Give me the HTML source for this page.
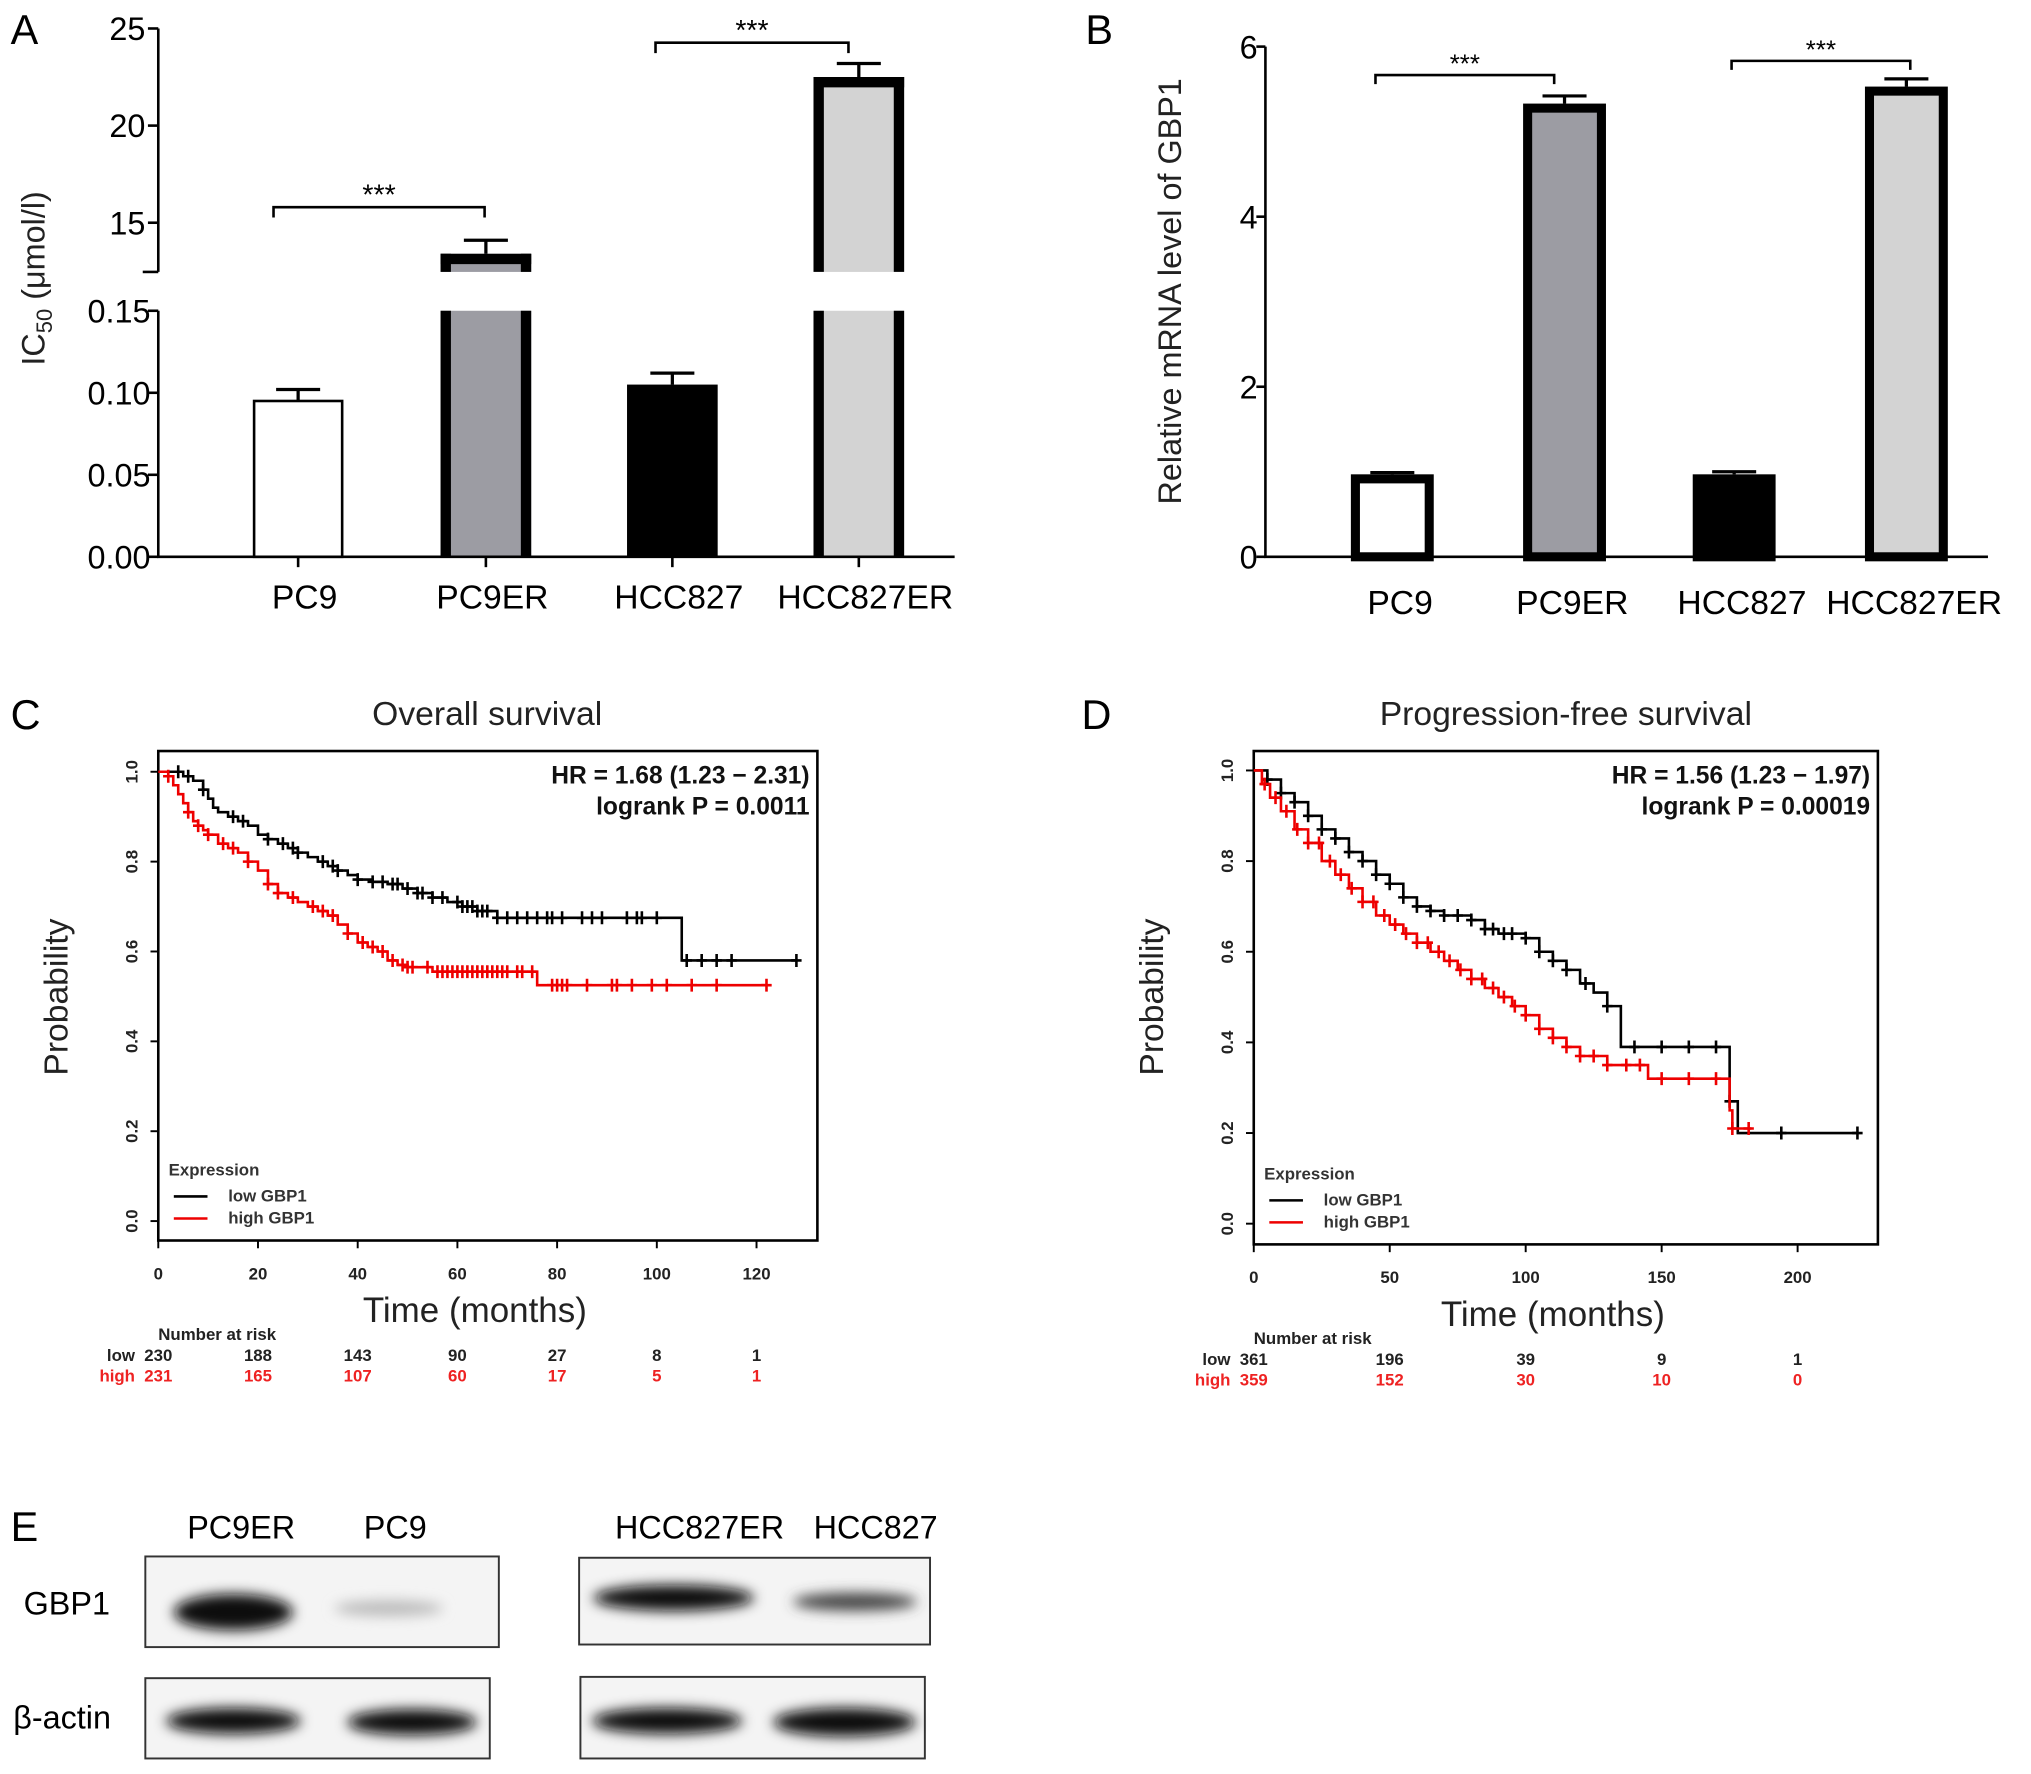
<!DOCTYPE html>
<html><head><meta charset="utf-8"><style>
html,body{margin:0;padding:0;background:#fff;}
svg{display:block;font-family:"Liberation Sans",sans-serif;}
</style></head><body>
<svg id="fig" width="2031" height="1774" viewBox="0 0 1568 1370" xmlns="http://www.w3.org/2000/svg">
<defs>
<filter id="blur" x="-30%" y="-80%" width="160%" height="260%"><feGaussianBlur stdDeviation="5"/></filter>
</defs>
<g id="A"></g>
<g id="B"></g>
<g id="C"></g>
<g id="D"></g>
<g id="E">
<text x="8" y="1190" font-size="32">E</text>
<text x="186" y="1188" font-size="25" text-anchor="middle">PC9ER</text>
<text x="305" y="1188" font-size="25" text-anchor="middle">PC9</text>
<text x="540" y="1188" font-size="25" text-anchor="middle">HCC827ER</text>
<text x="676" y="1188" font-size="25" text-anchor="middle">HCC827</text>
<text x="18" y="1247" font-size="25">GBP1</text>
<text x="10" y="1335" font-size="25">β-actin</text>
<rect x="112" y="1202" width="273" height="70" fill="#f4f4f4" stroke="#333" stroke-width="1.5"/>
<rect x="112" y="1296" width="266" height="62" fill="#f4f4f4" stroke="#333" stroke-width="1.5"/>
<rect x="447" y="1203" width="271" height="67" fill="#f4f4f4" stroke="#333" stroke-width="1.5"/>
<rect x="448" y="1295" width="266" height="63" fill="#f4f4f4" stroke="#333" stroke-width="1.5"/>
<g filter="url(#blur)">
<ellipse cx="180" cy="1245" rx="46" ry="14" fill="#111"/>
<ellipse cx="300" cy="1242" rx="42" ry="6" fill="#bbb"/>
<ellipse cx="180" cy="1329" rx="52" ry="10" fill="#111"/>
<ellipse cx="318" cy="1330" rx="50" ry="10" fill="#111"/>
<ellipse cx="520" cy="1234" rx="62" ry="10" fill="#111"/>
<ellipse cx="660" cy="1237" rx="48" ry="7" fill="#444"/>
<ellipse cx="515" cy="1329" rx="58" ry="10" fill="#111"/>
<ellipse cx="652" cy="1330" rx="55" ry="11" fill="#111"/>
</g>
</g>
</svg>
<script>
const NS="http://www.w3.org/2000/svg";
function mk(p,tag,at,txt){const e=document.createElementNS(NS,tag);for(const k in at)e.setAttribute(k,at[k]);if(txt!==undefined)e.textContent=txt;p.appendChild(e);return e;}

// ---- Panel A data ----
const aCats=["PC9","PC9ER","HCC827","HCC827ER"];
const aVals=[0.095,13.4,0.105,22.5];
const aErr=[0.007,0.7,0.007,0.7];
const aFills=["#ffffff","#9c9ca3","#000000","#d3d3d3"];
const aUpperTicks=[15,20,25];
const aLowerTicks=["0.00","0.05","0.10","0.15"];
// ---- Panel B data ----
const bCats=["PC9","PC9ER","HCC827","HCC827ER"];
const bVals=[0.97,5.33,0.97,5.53];
const bErr=[0.02,0.09,0.03,0.09];
const bTicks=[0,2,4,6];
// ---- Panel C data ----
const cLowT=[0,5,7,9,10,11,12,14,16,18,20,22,24,26,28,30,32,34,36,38,40,43,46,49,52,55,58,61,64,68,105,128];
const cLowS=[1,0.99,0.98,0.96,0.94,0.92,0.91,0.90,0.89,0.88,0.86,0.85,0.84,0.83,0.82,0.81,0.80,0.79,0.78,0.77,0.76,0.755,0.75,0.74,0.73,0.72,0.71,0.70,0.69,0.675,0.58,0.58];
const cHighT=[0,2,3,4,5,6,7,8,9,10,12,14,16,18,20,22,24,26,28,30,32,34,36,38,40,42,44,46,48,50,55,76,122];
const cHighS=[1,0.99,0.97,0.95,0.93,0.91,0.89,0.88,0.87,0.86,0.84,0.83,0.82,0.80,0.78,0.75,0.73,0.72,0.71,0.70,0.69,0.68,0.66,0.64,0.62,0.61,0.60,0.58,0.57,0.565,0.555,0.525,0.525];
const cLowCens=[4,6,9,15,17,22,25,27,28,33,35,36,40,43,45,47,48,50,52,53,55,57,60,61,62,63,64,65,66,68,70,72,74,76,78,79,81,85,87,89,94,96,97,100,106,109,112,115,128];
const cHighCens=[2,6,8,10,13,15,18,22,24,27,31,33,35,38,41,43,45,47,49,50,51,54,56,57,58,59,60,61,62,63,64,65,66,67,68,69,70,72,73,75,79,80,81,82,86,91,92,95,99,102,107,112,122];
const cRiskLow=[230,188,143,90,27,8,1];
const cRiskHigh=[231,165,107,60,17,5,1];
const cXTicks=[0,20,40,60,80,100,120];
// ---- Panel D data ----
const dLowT=[0,5,10,15,20,25,30,35,40,45,50,55,60,65,70,80,85,90,100,105,110,115,120,125,130,135,175,178,222];
const dLowS=[1,0.98,0.95,0.93,0.90,0.87,0.85,0.82,0.80,0.77,0.75,0.72,0.70,0.69,0.68,0.67,0.65,0.64,0.63,0.60,0.58,0.56,0.53,0.51,0.48,0.39,0.27,0.20,0.20];
const dHighT=[0,3,6,10,15,20,25,30,35,40,45,50,55,60,65,70,75,80,85,90,95,100,105,110,115,120,130,145,175,176,183];
const dHighS=[1,0.97,0.94,0.91,0.87,0.84,0.80,0.77,0.74,0.71,0.68,0.66,0.64,0.62,0.60,0.58,0.56,0.54,0.52,0.50,0.48,0.46,0.43,0.41,0.39,0.37,0.35,0.32,0.25,0.21,0.21];
const dLowCens=[5,10,15,20,25,30,35,40,45,50,55,60,65,70,75,80,85,88,92,95,100,105,110,115,122,130,140,150,160,170,175,194,222];
const dHighCens=[4,8,12,16,20,24,28,32,36,40,44,48,52,56,60,64,68,72,76,80,84,88,92,96,100,105,110,115,120,125,130,137,142,150,160,170,176,182];
const dRiskLow=[361,196,39,9,1];
const dRiskHigh=[359,152,30,10,0];
const dXTicks=[0,50,100,150,200];
const yTicksKM=["0.0","0.2","0.4","0.6","0.8","1.0"];

// ================= Panel A =================
(function(){
 const g=document.getElementById('A');
 const ax=122, yTop=22, yBreakU=210, yBreakL=240, y0=430;
 const yU=v=>97-(v-20)*15;
 const yL=v=>y0-(v/0.15)*(y0-yBreakL);
 const xs=[230,375,519,663], bw=70;
 let t=mk(g,'text',{x:8,y:34,'font-size':32},'A');
 
 aCats.forEach((c,i)=>{
  const v=aVals[i], big=v>1, x=xs[i]-bw/2;
  const yv=big?yU(v):yL(v), ye=big?yU(v+aErr[i]):yL(v+aErr[i]);
  if(big){
   const r1=mk(g,'rect',{x:x,y:yBreakL,width:bw,height:y0-yBreakL,fill:aFills[i]});
   
   mk(g,'rect',{x:x,y:yv,width:bw,height:yBreakU-yv,fill:aFills[i]});
   mk(g,'path',{d:`M${x+4},${yBreakL}V${y0}M${x+bw-4},${yBreakL}V${y0}M${x+4},${yBreakU}V${yv}M${x+bw-4},${yBreakU}V${yv}`,stroke:'#000','stroke-width':8,fill:'none'});
   mk(g,'line',{x1:x,x2:x+bw,y1:yv+4,y2:yv+4,stroke:'#000','stroke-width':8});
  } else {
   const sw=(i===0)?2:0;
   const r=mk(g,'rect',{x:x+sw/2,y:yv,width:bw-sw,height:y0-yv,fill:aFills[i],stroke:'#000','stroke-width':sw});
   
  }
  const eb=mk(g,'path',{d:`M${xs[i]},${yv}V${ye}M${xs[i]-17},${ye}H${xs[i]+17}`,stroke:'#000','stroke-width':2.5,fill:'none'});
  
  mk(g,'line',{x1:xs[i],x2:xs[i],y1:y0,y2:y0+8,stroke:'#000','stroke-width':2});
  const tl=mk(g,'text',{x:xs[i]+5,y:470,'font-size':26,'text-anchor':'middle'},c);
  
 });
 let l=mk(g,'path',{d:`M${ax},${yTop}V${yBreakU}M${ax},${yBreakL}V${y0}H737`,stroke:'#000','stroke-width':2,fill:'none'});
 
 mk(g,'line',{x1:ax-12,x2:ax,y1:yBreakU,y2:yBreakU,stroke:'#000','stroke-width':2});
 aUpperTicks.forEach(v=>{const y=yU(v);mk(g,'line',{x1:ax-8,x2:ax,y1:y,y2:y,stroke:'#000','stroke-width':2});
  const e=mk(g,'text',{x:ax-10,y:y+9,'font-size':25,'text-anchor':'end'},String(v));
  });
 aLowerTicks.forEach(s=>{const y=yL(parseFloat(s));mk(g,'line',{x1:ax-8,x2:ax,y1:y,y2:y,stroke:'#000','stroke-width':2});
  const e=mk(g,'text',{x:ax-6,y:y+9,'font-size':25,'text-anchor':'end'},s);
  });
 const yt=mk(g,'text',{transform:'translate(34,215) rotate(-90)','font-size':25,'text-anchor':'middle',fill:'#222'});
 yt.innerHTML='IC<tspan font-size="17" dy="6">50</tspan><tspan dy="-6"> (μmol/l)</tspan>';
 
 [[211,374,160],[506,655,33]].forEach(b=>{
  const p=mk(g,'path',{d:`M${b[0]},${b[2]+8}V${b[2]}H${b[1]}V${b[2]+8}`,stroke:'#000','stroke-width':2,fill:'none'});
  
  const s=mk(g,'text',{x:(b[0]+b[1])/2,y:b[2]-2,'font-size':22,'text-anchor':'middle'},'***');
  
 });
})();

// ================= Panel B =================
(function(){
 const g=document.getElementById('B');
 const ax=977, y0=430, y=v=>y0-v*(y0-36)/6;
 const xs=[1075,1208,1339,1472], bw=64;
 const fills=["#ffffff","#9c9ca3","#000000","#d3d3d3"];
 let t=mk(g,'text',{x:838,y:34,'font-size':32},'B');
 
 bCats.forEach((c,i)=>{
  const sw=7, x=xs[i]-bw/2, yv=y(bVals[i]), ye=y(bVals[i]+bErr[i]);
  const r=mk(g,'rect',{x:x+sw/2,y:yv+sw/2,width:bw-sw,height:y0-yv-sw/2,fill:fills[i],stroke:'#000','stroke-width':sw});
  
  const eb=mk(g,'path',{d:`M${xs[i]},${yv}V${ye}M${xs[i]-17},${ye}H${xs[i]+17}`,stroke:'#000','stroke-width':2.5,fill:'none'});
  
  const tl=mk(g,'text',{x:xs[i]+6,y:474,'font-size':26,'text-anchor':'middle'},c);
  
 });
 const a=mk(g,'path',{d:`M${ax},36V${y0}H1535`,stroke:'#000','stroke-width':2,fill:'none'});
 
 bTicks.forEach(v=>{mk(g,'line',{x1:ax-7,x2:ax,y1:y(v),y2:y(v),stroke:'#000','stroke-width':2});
  const e=mk(g,'text',{x:ax-6,y:y(v)+9,'font-size':25,'text-anchor':'end'},String(v));
  });
 const yt=mk(g,'text',{transform:'translate(912,225) rotate(-90)','font-size':25,'text-anchor':'middle',fill:'#222'},'Relative mRNA level of GBP1');
 
 [[1062,1200,58],[1337,1475,47]].forEach(b=>{
  const p=mk(g,'path',{d:`M${b[0]},${b[2]+7}V${b[2]}H${b[1]}V${b[2]+7}`,stroke:'#000','stroke-width':2,fill:'none'});
  
  const s=mk(g,'text',{x:(b[0]+b[1])/2,y:b[2]-2,'font-size':20,'text-anchor':'middle'},'***');
  
 });
})();

// ================= KM panels =================
function km(gid,o){
 const g=document.getElementById(gid);
 const X=v=>o.x0+v*o.sx, Y=v=>o.y0-v*(o.y0-o.y1);
 let t=mk(g,'text',{x:o.lblX,y:563,'font-size':32},o.letter);
 
 t=mk(g,'text',{x:o.titleX,y:560,'font-size':26,'text-anchor':'middle',fill:'#222'},o.title);
 
 const box=mk(g,'rect',{x:o.bx,y:o.by,width:o.bw,height:o.bh,fill:'none',stroke:'#000','stroke-width':2});
 
 o.xt.forEach(v=>{mk(g,'line',{x1:X(v),x2:X(v),y1:o.by+o.bh,y2:o.by+o.bh+6,stroke:'#000','stroke-width':1.5});
  const e=mk(g,'text',{x:X(v),y:o.by+o.bh+30,'font-size':13,'font-weight':'bold','text-anchor':'middle',fill:'#222'},String(v));
  });
 yTicksKM.forEach(s=>{const yy=Y(parseFloat(s));mk(g,'line',{x1:o.bx-6,x2:o.bx,y1:yy,y2:yy,stroke:'#000','stroke-width':1.5});
  const e=mk(g,'text',{transform:`translate(${o.bx-16},${yy}) rotate(-90)`,'font-size':13,'font-weight':'bold','text-anchor':'middle',fill:'#222'},s);
  });
 t=mk(g,'text',{transform:`translate(${o.bx-70},${o.by+190}) rotate(-90)`,'font-size':26,'text-anchor':'middle',fill:'#222'},'Probability');
 
 t=mk(g,'text',{x:o.bx+o.bw/2-10,y:o.by+o.bh+63,'font-size':27,'text-anchor':'middle',fill:'#222'},'Time (months)');
 
 const R=o.bx+o.bw-6;
 t=mk(g,'text',{x:R,y:o.by+25,'font-size':19,'font-weight':'bold','text-anchor':'end',fill:'#111'},o.hr);
 
 t=mk(g,'text',{x:R,y:o.by+49,'font-size':19,'font-weight':'bold','text-anchor':'end',fill:'#111'},o.p);
 
 const lx=o.bx+8, ly=o.by+o.bh-50;
 t=mk(g,'text',{x:lx,y:ly,'font-size':13,'font-weight':'bold',fill:'#333'},'Expression');
 
 [['low GBP1','#000',20],['high GBP1','#e00',37]].forEach(r=>{
  mk(g,'line',{x1:lx+4,x2:lx+30,y1:ly+r[2]-4,y2:ly+r[2]-4,stroke:r[1],'stroke-width':2});
  const e=mk(g,'text',{x:lx+46,y:ly+r[2],'font-size':13,'font-weight':'bold',fill:'#333'},r[0]);
  });
 function curve(T,S,C,col,name){
  let d=`M${X(T[0])},${Y(S[0])}`;
  for(let i=1;i<T.length;i++){d+=`H${X(T[i])}V${Y(S[i])}`;}
  const p=mk(g,'path',{d:d,stroke:col,'stroke-width':2,fill:'none'});
  
  C.forEach(c=>{let s=S[0];for(let i=0;i<T.length;i++){if(T[i]<=c)s=S[i];}
   const cx=X(c),cy=Y(s);
   const m=mk(g,'path',{d:`M${cx},${cy-5}V${cy+5}M${cx-4},${cy}H${cx+4}`,stroke:col,'stroke-width':2});
   });
 }
 curve(o.lowT,o.lowS,o.lowC,'#000','low-gbp1-curve');
 curve(o.highT,o.highS,o.highC,'#e00','high-gbp1-curve');
 const ry=o.by+o.bh+77;
 t=mk(g,'text',{x:o.bx,y:ry,'font-size':13,'font-weight':'bold',fill:'#222'},'Number at risk');
 
 [['low',o.rl,'#222',16],['high',o.rh,'#e22',32]].forEach(r=>{
  const e=mk(g,'text',{x:o.bx-18,y:ry+r[3],'font-size':13,'font-weight':'bold','text-anchor':'end',fill:r[2]},r[0]);
  
  r[1].forEach((v,i)=>{const n=mk(g,'text',{x:X(o.xt[i]),y:ry+r[3],'font-size':13,'font-weight':'bold','text-anchor':'middle',fill:r[2]},String(v));
   });
 });
}
km('C',{letter:'C',lblX:8,title:'Overall survival',titleX:376,bx:122,by:580,bw:509,bh:378,x0:122,sx:3.85,y0:943,y1:596,
 xt:cXTicks,hr:'HR = 1.68 (1.23 − 2.31)',p:'logrank P = 0.0011',lowT:cLowT,lowS:cLowS,lowC:cLowCens,highT:cHighT,highS:cHighS,highC:cHighCens,rl:cRiskLow,rh:cRiskHigh});
km('D',{letter:'D',lblX:835,title:'Progression-free survival',titleX:1209,bx:968,by:580,bw:482,bh:381,x0:968,sx:2.1,y0:945,y1:595,
 xt:dXTicks,hr:'HR = 1.56 (1.23 − 1.97)',p:'logrank P = 0.00019',lowT:dLowT,lowS:dLowS,lowC:dLowCens,highT:dHighT,highS:dHighS,highC:dHighCens,rl:dRiskLow,rh:dRiskHigh});
</script>
</body></html>
